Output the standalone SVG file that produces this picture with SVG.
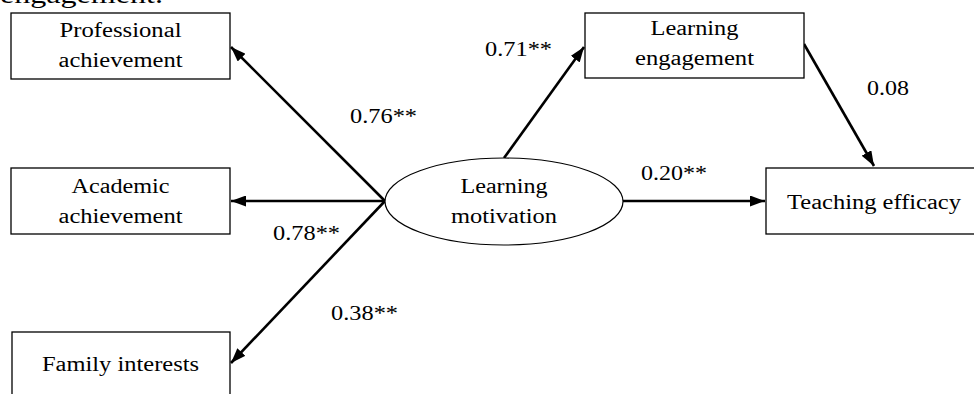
<svg xmlns="http://www.w3.org/2000/svg" width="974" height="394" viewBox="0 0 974 394">
<style>
.box{fill:#fff;stroke:#000;stroke-width:1.3}
.ell{fill:#fff;stroke:#000;stroke-width:1.2}
.t{font-family:"Liberation Serif","Times New Roman",serif;font-size:20px;fill:#000;text-anchor:middle}
.lbl{font-family:"Liberation Serif","Times New Roman",serif;font-size:20px;fill:#000}
.edge{stroke:#000;stroke-width:2.6;fill:none;marker-end:url(#arr)}
</style>
<defs>
<marker id="arr" markerUnits="userSpaceOnUse" markerWidth="15" markerHeight="11" refX="15" refY="5.5" orient="auto">
<path d="M0,0 L15,5.5 L0,11 z" fill="#000"/>
</marker>
</defs>
<rect width="974" height="394" fill="#fff"/>
<text class="lbl" x="0" y="3" style="font-size:26px" textLength="163" lengthAdjust="spacingAndGlyphs">engagement.</text>

<g id="connectors">
<line class="edge" x1="385" y1="201" x2="231" y2="47"/>
<line class="edge" x1="385" y1="201" x2="231" y2="201"/>
<line class="edge" x1="385" y1="201" x2="231" y2="363"/>
<line class="edge" x1="504" y1="158" x2="584" y2="47"/>
<line class="edge" x1="623" y1="201" x2="765" y2="201"/>
<line class="edge" x1="804" y1="44" x2="874" y2="166"/>
<text class="lbl" x="350" y="123" textLength="67" lengthAdjust="spacingAndGlyphs">0.76**</text>
<text class="lbl" x="273" y="240" textLength="67" lengthAdjust="spacingAndGlyphs">0.78**</text>
<text class="lbl" x="331" y="320" textLength="67" lengthAdjust="spacingAndGlyphs">0.38**</text>
<text class="lbl" x="485" y="56" textLength="67" lengthAdjust="spacingAndGlyphs">0.71**</text>
<text class="lbl" x="641" y="180" textLength="66" lengthAdjust="spacingAndGlyphs">0.20**</text>
<text class="lbl" x="867" y="95" textLength="42" lengthAdjust="spacingAndGlyphs">0.08</text>
</g>

<g id="professional">
<rect class="box" x="11" y="13" width="219" height="66"/>
<text class="t" x="120.5" y="37" textLength="122" lengthAdjust="spacingAndGlyphs">Professional</text>
<text class="t" x="120.5" y="67" textLength="124" lengthAdjust="spacingAndGlyphs">achievement</text>
</g>
<g id="academic">
<rect class="box" x="11" y="168" width="219" height="66"/>
<text class="t" x="120.5" y="193" textLength="98" lengthAdjust="spacingAndGlyphs">Academic</text>
<text class="t" x="120.5" y="223" textLength="124" lengthAdjust="spacingAndGlyphs">achievement</text>
</g>
<g id="family">
<rect class="box" x="12" y="332" width="218" height="80"/>
<text class="t" x="120.5" y="371" textLength="157" lengthAdjust="spacingAndGlyphs">Family interests</text>
</g>
<g id="motivation">
<ellipse class="ell" cx="504" cy="201.5" rx="119" ry="43.5"/>
<text class="t" x="504" y="193" textLength="87" lengthAdjust="spacingAndGlyphs">Learning</text>
<text class="t" x="504" y="223" textLength="106" lengthAdjust="spacingAndGlyphs">motivation</text>
</g>
<g id="engagement">
<rect class="box" x="585" y="13" width="219" height="65"/>
<text class="t" x="694.5" y="35" textLength="88" lengthAdjust="spacingAndGlyphs">Learning</text>
<text class="t" x="694.5" y="65" textLength="119" lengthAdjust="spacingAndGlyphs">engagement</text>
</g>
<g id="efficacy">
<rect class="box" x="766" y="168" width="220" height="66"/>
<text class="t" x="874" y="209" textLength="174" lengthAdjust="spacingAndGlyphs">Teaching efficacy</text>
</g>
</svg>
